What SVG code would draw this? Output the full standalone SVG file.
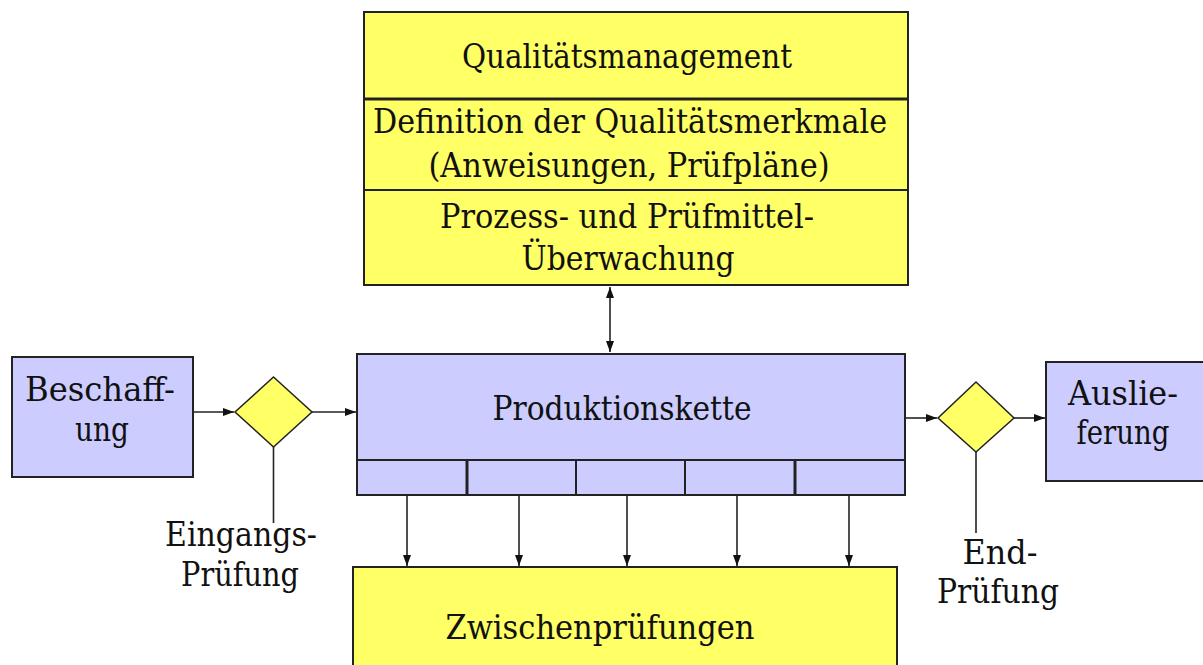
<svg xmlns="http://www.w3.org/2000/svg" width="1203" height="665" viewBox="0 0 1203 665">
  <defs>
    <style>
      .yel { fill: #ffff66; stroke: #222; stroke-width: 2; }
      .blu { fill: #ccccff; stroke: #222; stroke-width: 2; }
      .div { stroke: #222; stroke-width: 2; fill: none; }
      .t { font-family: 'DejaVu Serif', serif; font-size: 34px; fill: #111; text-anchor: middle; }
      .c { stroke: #222; stroke-width: 1.6; fill: none; }
      .a { marker-end: url(#ah); }
      .ab { marker-end: url(#ah); marker-start: url(#ah); }
    </style>
    <marker id="ah" markerUnits="userSpaceOnUse" markerWidth="12" markerHeight="10" viewBox="0 0 12 10" refX="11" refY="5" orient="auto-start-reverse">
      <path d="M0,1 L11,5 L0,9 z" fill="#111"/>
    </marker>
  </defs>
  <rect width="1203" height="665" fill="#ffffff"/>

  <g id="connectors">
    <line class="c ab" x1="610" y1="287" x2="610" y2="352"/>
    <line class="c a" x1="193" y1="412" x2="234" y2="412"/>
    <line class="c a" x1="312" y1="412" x2="356" y2="412"/>
    <line class="c" x1="273.5" y1="447" x2="273.5" y2="523"/>
    <line class="c a" x1="905" y1="418" x2="937" y2="418"/>
    <line class="c a" x1="1014" y1="418" x2="1045" y2="418"/>
    <line class="c" x1="976" y1="452" x2="976" y2="533"/>
    <line class="c a" x1="407" y1="495" x2="407" y2="566"/>
    <line class="c a" x1="519" y1="495" x2="519" y2="566"/>
    <line class="c a" x1="627" y1="495" x2="627" y2="566"/>
    <line class="c a" x1="737" y1="495" x2="737" y2="566"/>
    <line class="c a" x1="849" y1="495" x2="849" y2="566"/>
  </g>

  <g id="qualitaetsmanagement">
    <rect class="yel" x="364" y="12" width="544" height="273"/>
    <line class="div" x1="364" y1="99" x2="908" y2="99" style="stroke-width:3"/>
    <line class="div" x1="364" y1="190" x2="908" y2="190"/>
    <text class="t" x="627" y="68" textLength="330" lengthAdjust="spacingAndGlyphs">Qualitätsmanagement</text>
    <text class="t" x="630" y="133" textLength="514" lengthAdjust="spacingAndGlyphs">Definition der Qualitätsmerkmale</text>
    <text class="t" x="629" y="177" textLength="401" lengthAdjust="spacingAndGlyphs">(Anweisungen, Prüfpläne)</text>
    <text class="t" x="627" y="228" textLength="374" lengthAdjust="spacingAndGlyphs">Prozess- und Prüfmittel-</text>
    <text class="t" x="628" y="270" textLength="213" lengthAdjust="spacingAndGlyphs">Überwachung</text>
  </g>

  <g id="produktionskette">
    <rect class="blu" x="357" y="354" width="548" height="141"/>
    <line class="div" x1="357" y1="460" x2="905" y2="460"/>
    <line class="div" x1="467" y1="460" x2="467" y2="495" style="stroke-width:3"/>
    <line class="div" x1="576" y1="460" x2="576" y2="495"/>
    <line class="div" x1="685" y1="460" x2="685" y2="495"/>
    <line class="div" x1="795" y1="460" x2="795" y2="495" style="stroke-width:3"/>
    <text class="t" x="622" y="420" textLength="259" lengthAdjust="spacingAndGlyphs">Produktionskette</text>
  </g>

  <g id="zwischenpruefungen">
    <rect class="yel" x="353" y="567" width="544" height="110"/>
    <text class="t" x="600" y="639" textLength="309" lengthAdjust="spacingAndGlyphs">Zwischenprüfungen</text>
  </g>

  <g id="beschaffung">
    <rect class="blu" x="12" y="357" width="181" height="120"/>
    <text class="t" x="100" y="401" textLength="150" lengthAdjust="spacingAndGlyphs">Beschaff-</text>
    <text class="t" x="102" y="441" textLength="54" lengthAdjust="spacingAndGlyphs">ung</text>
  </g>

  <g id="eingangspruefung">
    <polygon class="yel" points="273.5,377 312,412 273.5,447 235,412" style="stroke-width:1.5"/>
    <text class="t" x="241" y="546" textLength="152" lengthAdjust="spacingAndGlyphs">Eingangs-</text>
    <text class="t" x="240" y="586" textLength="118" lengthAdjust="spacingAndGlyphs">Prüfung</text>
  </g>

  <g id="endpruefung">
    <polygon class="yel" points="976,382 1014,418 976,452 938,418" style="stroke-width:1.5"/>
    <text class="t" x="1000" y="564" textLength="75" lengthAdjust="spacingAndGlyphs">End-</text>
    <text class="t" x="998" y="603" textLength="122" lengthAdjust="spacingAndGlyphs">Prüfung</text>
  </g>

  <g id="auslieferung">
    <rect class="blu" x="1046" y="362" width="170" height="119"/>
    <text class="t" x="1123" y="405" textLength="110" lengthAdjust="spacingAndGlyphs">Auslie-</text>
    <text class="t" x="1123" y="444" textLength="93" lengthAdjust="spacingAndGlyphs">ferung</text>
  </g>
</svg>
